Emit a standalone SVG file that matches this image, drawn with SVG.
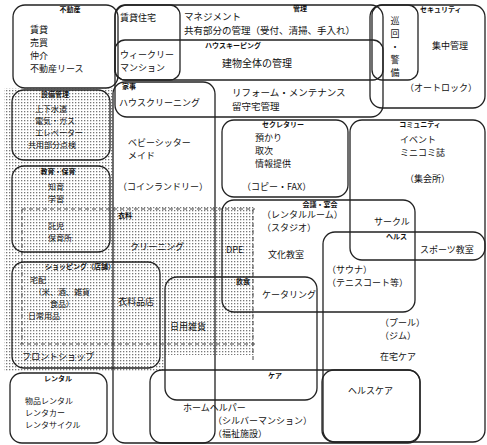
<svg xmlns="http://www.w3.org/2000/svg" width="487" height="445" viewBox="0 0 487 445">
<defs>
<pattern id="dots" width="3" height="3" patternUnits="userSpaceOnUse"><rect x="0" y="0" width="1.3" height="1.3" fill="#777"/></pattern>
</defs>
<style>
.b{fill:none;stroke:#222;stroke-width:1.3}
.d{fill:none;stroke:#444;stroke-width:1;stroke-dasharray:4 3}
text{font-family:"Noto Sans CJK JP",sans-serif;fill:#111;font-size:9px}
.t{font-size:7px;font-weight:bold}
.s{font-size:8px}
.l{font-size:9.5px}
</style>
<rect width="487" height="445" fill="#fff"/>
<path d="M4,88 H113 V207 H255 V355 H165 V372 H4 Z" fill="url(#dots)"/>
<g id="connectors">
<path class="d" d="M22,209 H255"/>
<path class="d" d="M22,209 V344"/>
<path class="d" d="M20,344 H255"/>
<path class="d" d="M253,209 V360"/>
</g>
<g id="fudosan"><rect class="b" x="13" y="5" width="105" height="83" rx="12"/>
<text class="t" x="70" y="12" text-anchor="middle">不動産</text>
<text x="30" y="33">賃貸</text><text x="30" y="46">売買</text><text x="30" y="59">仲介</text><text x="30" y="72">不動産リース</text></g>
<g id="chintai"><rect class="b" x="115" y="5" width="65" height="75" rx="10"/>
<text x="120" y="21">賃貸住宅</text></g>
<g id="kanri"><rect class="b" x="115" y="5" width="268" height="112" rx="12"/>
<text class="t" x="300" y="11" text-anchor="middle">管理</text>
<text class="l" x="184" y="20">マネジメント</text>
<text class="l" x="184" y="34">共有部分の管理（受付、清掃、手入れ）</text></g>
<g id="housekeeping"><rect class="b" x="115" y="40" width="268" height="40" rx="10"/>
<text class="t" x="205" y="48">ハウスキーピング</text>
<text x="120" y="58">ウィークリー</text><text x="120" y="71">マンション</text>
<text x="222" y="67" style="font-size:10px">建物全体の管理</text></g>
<g id="reform"><text class="l" x="232" y="96">リフォーム・メンテナンス</text><text class="l" x="232" y="110">留守宅管理</text></g>
<g id="security"><rect class="b" x="370" y="5" width="115" height="103" rx="12"/>
<text class="t" x="420" y="12">セキュリティ</text>
<text x="432" y="49">集中管理</text>
<text x="405" y="91">（オートロック）</text></g>
<g id="junkai"><rect class="b" x="372" y="5" width="46" height="75" rx="10"/>
<text x="395" y="24" text-anchor="middle">巡</text><text x="395" y="37" text-anchor="middle">回</text><text x="395" y="50" text-anchor="middle">・</text><text x="395" y="63" text-anchor="middle">警</text><text x="395" y="76" text-anchor="middle">備</text></g>
<g id="kaji"><rect class="b" x="113" y="82" width="102" height="361" rx="12"/>
<text class="t" x="122" y="89">家事</text>
<text x="119" y="106">ハウスクリーニング</text>
<text x="128" y="146">ベビーシッター</text><text x="128" y="159">メイド</text>
<text x="118" y="190">（コインランドリー）</text>
<text class="t" x="118" y="218">衣料</text>
<text x="130" y="250">クリーニング</text>
<text x="118" y="305">衣料品店</text></g>
<g id="setsubi"><rect class="b" x="12" y="90" width="98" height="70" rx="12"/>
<text class="t" x="55" y="97" text-anchor="middle">設備管理</text>
<text class="s" x="35" y="112">上下水道</text><text class="s" x="35" y="124">電気・ガス</text><text class="s" x="35" y="136">エレベーター</text><text class="s" x="28" y="148">共用部分点検</text></g>
<g id="kyoiku"><rect class="b" x="12" y="166" width="98" height="86" rx="12"/>
<text class="t" x="58" y="174" text-anchor="middle">教育・保育</text>
<text class="s" x="48" y="190">知育</text><text class="s" x="48" y="202">学習</text>
<text class="s" x="48" y="229">託児</text><text class="s" x="48" y="241">保育所</text></g>
<g id="shopping"><rect class="b" x="12" y="262" width="148" height="106" rx="12"/>
<text class="t" x="45" y="269">ショッピング（店舗）</text>
<text class="s" x="30" y="283">宅配</text><text class="s" x="34" y="295">（米、酒、雑貨</text><text class="s" x="50" y="307">食品）</text><text class="s" x="28" y="319">日常用品</text>
<text x="22" y="360">フロントショップ</text></g>
<g id="rental"><rect class="b" x="10" y="373" width="97" height="70" rx="12"/>
<text class="t" x="58" y="381" text-anchor="middle">レンタル</text>
<text class="s" x="25" y="404">物品レンタル</text><text class="s" x="25" y="416">レンタカー</text><text class="s" x="25" y="428">レンタサイクル</text></g>
<g id="secretary"><rect class="b" x="222" y="120" width="126" height="77" rx="12"/>
<text class="t" x="283" y="127" text-anchor="middle">セクレタリー</text>
<text x="255" y="141">預かり</text><text x="255" y="154">取次</text><text x="255" y="167">情報提供</text>
<text x="242" y="190">（コピー・FAX）</text></g>
<g id="community"><rect class="b" x="350" y="120" width="135" height="140" rx="12"/>
<text class="t" x="420" y="127" text-anchor="middle">コミュニティ</text>
<text x="400" y="143">イベント</text><text x="400" y="156">ミニコミ誌</text>
<text x="405" y="182">（集会所）</text></g>
<g id="kaigi"><rect class="b" x="222" y="200" width="193" height="112" rx="12"/>
<text class="t" x="320" y="207" text-anchor="middle">会議・宴会</text>
<text x="262" y="218">（レンタルルーム）</text><text x="262" y="231">（スタジオ）</text>
<text x="268" y="258">文化教室</text>
<text x="374" y="225">サークル</text>
<text x="226" y="253">DPE</text></g>
<g id="inshoku"><rect class="b" x="165" y="277" width="152" height="123" rx="12"/>
<text class="t" x="236" y="284">飲食</text>
<text x="262" y="298">ケータリング</text>
<text x="170" y="330">日用雑貨</text></g>
<g id="health"><rect class="b" x="323" y="232" width="162" height="210" rx="12"/>
<text class="t" x="386" y="239">ヘルス</text>
<text x="420" y="253">スポーツ教室</text>
<text x="327" y="273">（サウナ）</text><text x="327" y="286">（テニスコート等）</text>
<text x="380" y="326">（プール）</text><text x="380" y="339">（ジム）</text>
<text x="380" y="360">在宅ケア</text></g>
<g id="care"><rect class="b" x="150" y="370" width="270" height="73" rx="12"/>
<text class="t" x="268" y="378">ケア</text>
<text x="183" y="411">ホームヘルパー</text>
<text x="213" y="424">（シルバーマンション）</text><text x="213" y="437">（福祉施設）</text></g>
<g id="healthcare"><rect class="b" x="322" y="370" width="98" height="72" rx="12"/>
<text x="348" y="394">ヘルスケア</text></g>
</svg>
